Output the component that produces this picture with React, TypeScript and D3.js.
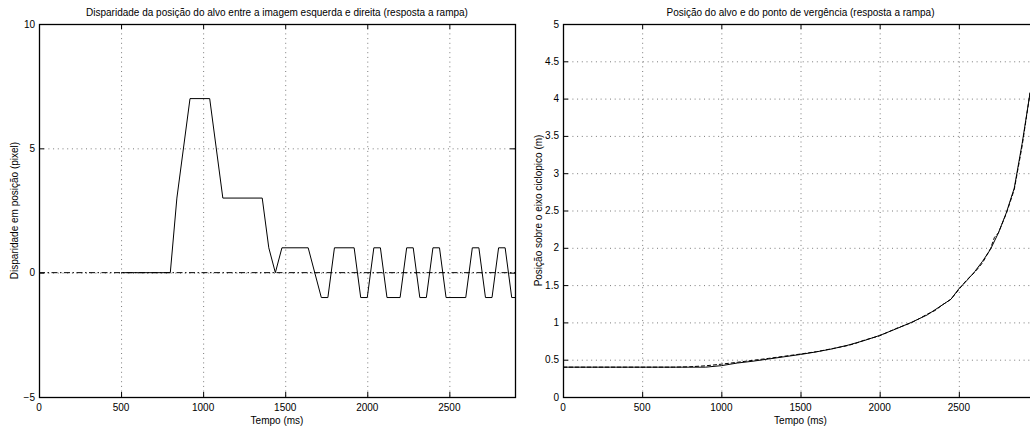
import React from "react";
import * as d3 from "d3";

// Disparity panel (left)
const dispTime = [500, 800, 840, 920, 1040, 1120, 1360, 1400, 1440, 1480, 1640, 1720, 1760, 1800, 1920, 1960, 2000, 2040, 2080, 2120, 2200, 2240, 2280, 2320, 2360, 2400, 2440, 2480, 2600, 2640, 2680, 2720, 2760, 2800, 2840, 2880, 2900];
const dispValue = [0, 0, 3, 7, 7, 3, 3, 1, 0, 1, 1, -1, -1, 1, 1, -1, -1, 1, 1, -1, -1, 1, 1, -1, -1, 1, 1, -1, -1, 1, 1, -1, -1, 1, 1, -1, -1];
const dispRefTime = [0, 2900];
const dispRefValue = [0, 0];
const dispXTicks = [0, 500, 1000, 1500, 2000, 2500];
const dispYTicks = [-5, 0, 5, 10];

// Target / vergence position panel (right)
const targetTime = [0, 100, 200, 300, 400, 500, 600, 700, 800, 900, 1000, 1100, 1200, 1300, 1400, 1500, 1600, 1700, 1800, 1900, 2000, 2100, 2200, 2300, 2400, 2450, 2500, 2550, 2600, 2650, 2700, 2750, 2800, 2850, 2900, 2950];
const targetValue = [0.4, 0.4, 0.4, 0.4, 0.4, 0.4, 0.4, 0.4, 0.4, 0.4, 0.42, 0.455, 0.48, 0.51, 0.54, 0.57, 0.605, 0.645, 0.695, 0.755, 0.825, 0.91, 1.0, 1.1, 1.24, 1.31, 1.45, 1.56, 1.68, 1.82, 1.98, 2.2, 2.47, 2.8, 3.4, 4.08];
const vergTime = [0, 700, 800, 900, 1000, 1100, 1200, 1300, 1400, 1500, 1600, 1700, 1800, 1850, 1900, 2000, 2100, 2200, 2250, 2300, 2350, 2400, 2450, 2500, 2550, 2600, 2650, 2700, 2725, 2750, 2800, 2850, 2900, 2950];
const vergValue = [0.4, 0.4, 0.405, 0.418, 0.44, 0.465, 0.492, 0.518, 0.547, 0.576, 0.607, 0.648, 0.69, 0.72, 0.76, 0.82, 0.915, 0.995, 1.05, 1.11, 1.16, 1.24, 1.31, 1.44, 1.57, 1.67, 1.8, 1.99, 2.14, 2.2, 2.46, 2.78, 3.37, 4.08];
const posXTicks = [0, 500, 1000, 1500, 2000, 2500];
const posYTicks = [0, 0.5, 1, 1.5, 2, 2.5, 3, 3.5, 4, 4.5, 5];

const FONT = "'Liberation Sans', Arial, Helvetica, sans-serif";

type Series = { t: number[]; v: number[]; dash?: string };

type PanelProps = {
  left: number;
  right: number;
  top: number;
  bottom: number;
  xDomain: [number, number];
  yDomain: [number, number];
  xTicks: number[];
  yTicks: number[];
  title: string;
  xLabel: string;
  yLabel: string;
  series: Series[];
  clipId: string;
};

const fmt = (v: number) => (v < 0 ? "\u2212" + String(-v) : String(v));

function Panel(p: PanelProps) {
  const x = d3.scaleLinear().domain(p.xDomain).range([p.left, p.right]);
  const y = d3.scaleLinear().domain(p.yDomain).range([p.bottom, p.top]);
  const line = d3
    .line<[number, number]>()
    .x((d) => x(d[0]))
    .y((d) => y(d[1]));
  const cx = (p.left + p.right) / 2;
  const cy = (p.top + p.bottom) / 2;
  const gridStyle = { stroke: "#7a7a7a", strokeWidth: 1, strokeDasharray: "1,3.7" };
  const tickLen = 5;
  return (
    <g>
      <defs>
        <clipPath id={p.clipId}>
          <rect x={p.left} y={p.top} width={p.right - p.left} height={p.bottom - p.top} />
        </clipPath>
      </defs>
      {/* grid */}
      {p.xTicks
        .filter((t) => t > p.xDomain[0] && t < p.xDomain[1])
        .map((t) => (
          <line key={"gx" + t} x1={x(t) + 0.5} x2={x(t) + 0.5} y1={p.top} y2={p.bottom} style={gridStyle} />
        ))}
      {p.yTicks
        .filter((t) => t > p.yDomain[0] && t < p.yDomain[1])
        .map((t) => (
          <line key={"gy" + t} x1={p.left} x2={p.right} y1={y(t) + 0.5} y2={y(t) + 0.5} style={gridStyle} />
        ))}
      {/* data */}
      <g clipPath={`url(#${p.clipId})`}>
        {p.series.map((s, i) => (
          <path
            key={i}
            d={line(s.t.map((t, j) => [t, s.v[j]] as [number, number])) || ""}
            fill="none"
            stroke="#000"
            strokeWidth={1}
            strokeDasharray={s.dash}
          />
        ))}
      </g>
      {/* box */}
      <rect
        x={p.left + 0.5}
        y={p.top + 0.5}
        width={p.right - p.left}
        height={p.bottom - p.top}
        fill="none"
        stroke="#000"
        strokeWidth={1.3}
      />
      {/* ticks */}
      {p.xTicks.map((t) => (
        <g key={"tx" + t}>
          <line x1={x(t) + 0.5} x2={x(t) + 0.5} y1={p.bottom} y2={p.bottom - tickLen} stroke="#000" />
          <line x1={x(t) + 0.5} x2={x(t) + 0.5} y1={p.top} y2={p.top + tickLen} stroke="#000" />
          <text x={x(t)} y={p.bottom + 14} textAnchor="middle" fontSize={10} fontFamily={FONT}>
            {fmt(t)}
          </text>
        </g>
      ))}
      {p.yTicks.map((t) => (
        <g key={"ty" + t}>
          <line x1={p.left} x2={p.left + tickLen} y1={y(t) + 0.5} y2={y(t) + 0.5} stroke="#000" />
          <line x1={p.right} x2={p.right - tickLen} y1={y(t) + 0.5} y2={y(t) + 0.5} stroke="#000" />
          <text x={p.left - 4} y={y(t) + 3.5} textAnchor="end" fontSize={10} fontFamily={FONT}>
            {fmt(t)}
          </text>
        </g>
      ))}
      <text x={cx} y={15.5} textAnchor="middle" fontSize={10} fontFamily={FONT}>
        {p.title}
      </text>
      <text x={cx} y={p.bottom + 26.5} textAnchor="middle" fontSize={10} fontFamily={FONT}>
        {p.xLabel}
      </text>
      <text
        transform={`translate(${p.left - 21},${cy}) rotate(-90)`}
        textAnchor="middle"
        fontSize={10}
        fontFamily={FONT}
      >
        {p.yLabel}
      </text>
    </g>
  );
}

export default function App() {
  return (
    <svg
      width={1030}
      height={430}
      style={{ position: "absolute", left: 0, top: 0, background: "#fff" }}
      xmlns="http://www.w3.org/2000/svg"
    >
      <rect x={0} y={0} width={1030} height={430} fill="#fff" />
      <Panel
        left={39}
        right={515}
        top={24}
        bottom={397}
        xDomain={[0, 2900]}
        yDomain={[-5, 10]}
        xTicks={dispXTicks}
        yTicks={dispYTicks}
        title="Disparidade da posição do alvo entre a imagem esquerda e direita (resposta a rampa)"
        xLabel="Tempo (ms)"
        yLabel="Disparidade em posição (pixel)"
        clipId="clipDisp"
        series={[
          { t: dispRefTime, v: dispRefValue, dash: "6,2.5,1.5,2.5" },
          { t: dispTime, v: dispValue },
        ]}
      />
      <Panel
        left={563}
        right={1038}
        top={24}
        bottom={397}
        xDomain={[0, 3000]}
        yDomain={[0, 5]}
        xTicks={posXTicks}
        yTicks={posYTicks}
        title="Posição do alvo e do ponto de vergência (resposta a rampa)"
        xLabel="Tempo (ms)"
        yLabel="Posição sobre o eixo ciclopico (m)"
        clipId="clipPos"
        series={[
          { t: vergTime, v: vergValue, dash: "4,2" },
          { t: targetTime, v: targetValue },
        ]}
      />
    </svg>
  );
}
